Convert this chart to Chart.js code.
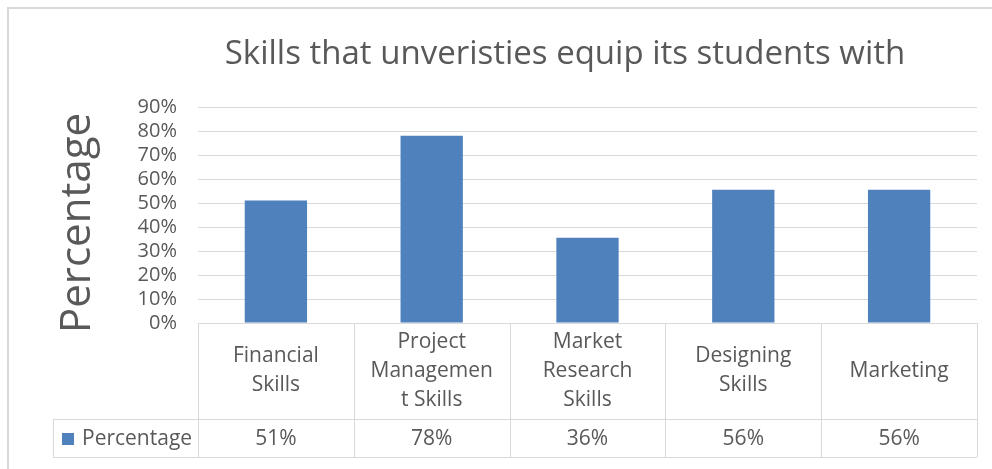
<!DOCTYPE html>
<html>
<head>
<meta charset="utf-8">
<script src="https://cdn.jsdelivr.net/npm/chart.js@4/dist/chart.umd.min.js"></script>
<style>
  body { margin: 0; background: #fff; }
  canvas { display: block; }
</style>
</head>
<body>
<canvas id="myChart" width="992" height="469"></canvas>
<script>
const titleText = 'Skills that unveristies equip its students with'
const axisTitle = 'Percentage'
const seriesName = 'Percentage'
const categories = ['Financial Skills', 'Project Management Skills', 'Market Research Skills', 'Designing Skills', 'Marketing']
// how the labels wrap inside the data table cells
const categoryLines = [
  ['Financial', 'Skills'],
  ['Project', 'Managemen', 't Skills'],
  ['Market', 'Research', 'Skills'],
  ['Designing', 'Skills'],
  ['Marketing']
]
// the table shows them rounded
const values = [0.51, 0.78, 0.355, 0.555, 0.555]

const FONT = '"Open Sans", sans-serif'
const TEXT = '#595959'
const LINE = '#d9d9d9'
const BAR = '#4f81bd'

const pct = v => Math.round(v * 100) + '%'

const extras = {
  id: 'extras',
  beforeDraw(chart) {
    const c = chart.ctx
    c.save()
    c.fillStyle = '#fff'
    c.fillRect(0, 0, chart.width, chart.height)
    // outer frame (top + left only visible)
    c.strokeStyle = LINE
    c.lineWidth = 2
    c.beginPath()
    c.moveTo(8, chart.height)
    c.lineTo(8, 8)
    c.lineTo(chart.width, 8)
    c.stroke()
    c.restore()
  },
  afterDraw(chart) {
    const c = chart.ctx
    const area = chart.chartArea
    const x = chart.scales.x
    const n = categories.length
    const cw = (x.right - x.left) / n
    const top = area.bottom
    const mid = top + 96
    const bot = top + 134
    const legLeft = 53

    c.save()
    // title
    c.fillStyle = TEXT
    c.font = '33px ' + FONT
    c.textAlign = 'center'
    c.textBaseline = 'middle'
    c.fillText(titleText, 565, 55)

    // vertical axis title
    c.save()
    c.translate(78, 223)
    c.rotate(-Math.PI / 2)
    c.font = '42px ' + FONT
    c.fillText(axisTitle, 0, 0)
    c.restore()

    // data table grid
    c.strokeStyle = LINE
    c.lineWidth = 1
    c.beginPath()
    c.moveTo(x.left, top + 0.5); c.lineTo(x.right, top + 0.5)
    c.moveTo(legLeft, mid + 0.5); c.lineTo(x.right, mid + 0.5)
    c.moveTo(legLeft, bot + 0.5); c.lineTo(x.right, bot + 0.5)
    c.moveTo(legLeft + 0.5, mid); c.lineTo(legLeft + 0.5, bot)
    for (let i = 0; i <= n; i++) {
      const px = Math.round(x.left + i * cw) + 0.5
      c.moveTo(px, top); c.lineTo(px, bot)
    }
    c.stroke()

    // header cells + values
    c.font = '21px ' + FONT
    c.fillStyle = TEXT
    const lh = 29
    categoryLines.forEach((lines, i) => {
      const cx = x.getPixelForValue(i)
      const cy = (top + mid) / 2
      const y0 = cy - (lines.length - 1) * lh / 2
      lines.forEach((t, j) => c.fillText(t, cx, y0 + j * lh))
      c.fillText(pct(values[i]), cx, (mid + bot) / 2 + 1)
    })

    // legend key in table
    const ry = (mid + bot) / 2 + 1
    c.fillStyle = BAR
    c.fillRect(62, ry - 6, 12, 12)
    c.fillStyle = TEXT
    c.textAlign = 'left'
    c.fillText(seriesName, 82, ry)
    c.restore()
  }
}

const ctx = document.getElementById('myChart')
const myChart = new Chart(ctx, {
  type: 'bar',
  data: {
    labels: categories,
    datasets: [{
      label: seriesName,
      data: values,
      backgroundColor: BAR,
      borderColor: BAR,
      borderWidth: 0,
      barPercentage: 0.4,
      categoryPercentage: 1
    }]
  },
  options: {
    responsive: false,
    animation: false,
    layout: { padding: { left: 0, right: 15, top: 107, bottom: 146 } },
    plugins: {
      legend: { display: false },
      title: { display: false },
      tooltip: { enabled: false }
    },
    scales: {
      x: { display: false },
      y: {
        min: 0,
        max: 0.9,
        afterFit: s => { s.width = 198 },
        border: { display: false },
        grid: { color: LINE, drawTicks: false },
        ticks: {
          stepSize: 0.1,
          autoSkip: false,
          padding: 21,
          color: TEXT,
          font: { family: FONT, size: 20 },
          callback: v => pct(v)
        }
      }
    }
  },
  plugins: [extras]
})
</script>
</body>
</html>
